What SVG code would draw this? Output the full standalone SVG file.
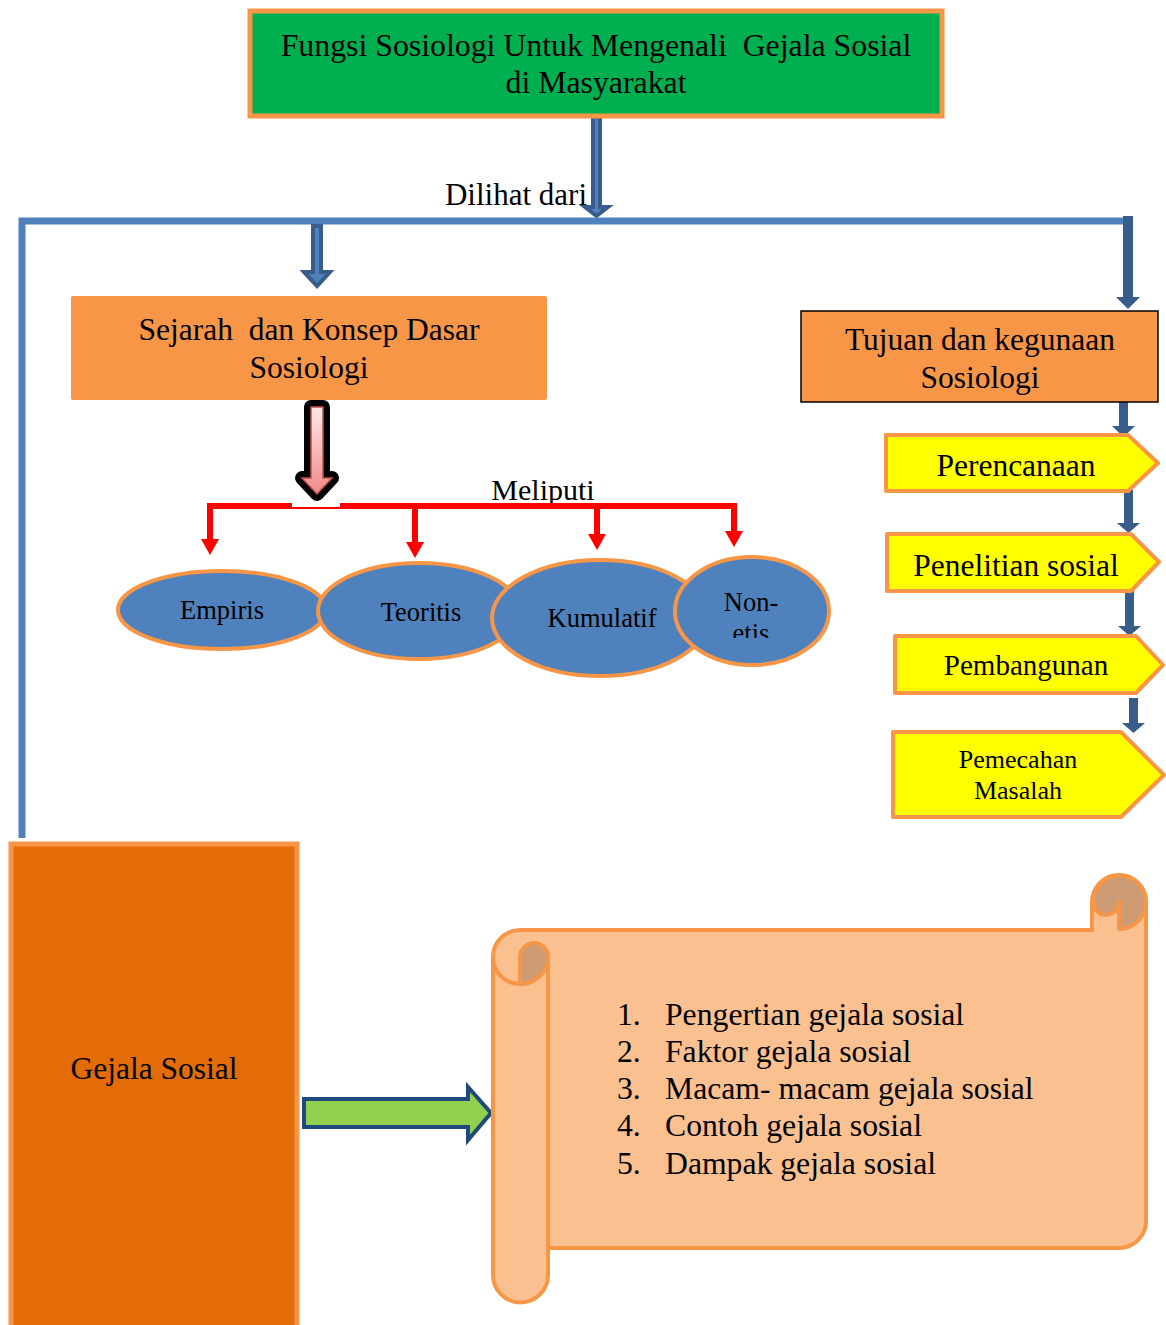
<svg xmlns="http://www.w3.org/2000/svg" width="1166" height="1325" viewBox="0 0 1166 1325">
<defs>
<style>
.t{font-family:"Liberation Serif","Times New Roman",serif;fill:#000}
.c{text-anchor:middle}
.pent{fill:#FFFF00;stroke:#F79646;stroke-width:4;stroke-linejoin:round}
.ell{fill:#4F81BD;stroke:#F79646;stroke-width:4}
.db{fill:#385D8A}
.red{stroke:#FF0000;stroke-width:6;fill:none}
.redh{fill:#FF0000}
.sc{fill:#FAC090;stroke:#F79646;stroke-width:4;stroke-linejoin:round}
.scl{fill:none;stroke:#F79646;stroke-width:4}
.dk{fill:#CD9B74;stroke:#F79646;stroke-width:4;stroke-linejoin:round}
</style>
<linearGradient id="pink" x1="0" y1="0" x2="0" y2="1">
<stop offset="0" stop-color="#FFE8E8"/>
<stop offset="1" stop-color="#F08A8A"/>
</linearGradient>
<clipPath id="nonclip"><rect x="680" y="560" width="150" height="78"/></clipPath>
</defs>
<rect width="1166" height="1325" fill="#FFFFFF"/>

<g id="connectors">
<path d="M593 117 L600 117 L600 207 L608 207 L596.5 216 L585 207 L593 207 Z" fill="#4F81BD" stroke="#385D8A" stroke-width="4"/>
<polyline points="22,838 22,221 1125,221" fill="none" stroke="#4F81BD" stroke-width="7"/>
<path d="M313 226 L321 226 L321 272 L330 272 L317 286 L304 272 L313 272 Z" fill="#4F81BD" stroke="#385D8A" stroke-width="4"/>
<rect class="db" x="1123" y="216" width="10" height="82"/>
<polygon class="db" points="1116,297 1140,297 1128,309"/>
<rect class="db" x="1119" y="402" width="9" height="25"/>
<polygon class="db" points="1112,426 1135,426 1123.5,437"/>
<rect class="db" x="1124" y="490" width="9" height="34"/>
<polygon class="db" points="1117,523 1140,523 1128.5,533"/>
<rect class="db" x="1125" y="590" width="9" height="37"/>
<polygon class="db" points="1118,626 1141,626 1129.5,636"/>
<rect class="db" x="1129" y="698" width="9" height="26"/>
<polygon class="db" points="1122,723 1145,723 1133.5,733"/>
<text class="t c" x="543" y="500" font-size="30">Meliputi</text>
<polyline class="red" points="210,540 210,506 734,506 734,532"/>
<line class="red" x1="415" y1="506" x2="415" y2="542" stroke-width="5"/>
<line class="red" x1="597" y1="506" x2="597" y2="534" stroke-width="5"/>
<polygon class="redh" points="201,539 219,539 210,555"/>
<polygon class="redh" points="406,542 424,542 415,558"/>
<polygon class="redh" points="588,534 606,534 597,550"/>
<polygon class="redh" points="725,531 743,531 734,547"/>
<rect x="292" y="400" width="48" height="107" fill="#FFFFFF"/>
<path d="M311 407 L323 407 L323 478 L332 478 L317 494 L302 478 L311 478 Z" fill="none" stroke="#000" stroke-width="14" stroke-linejoin="round"/>
<path d="M311 407 L323 407 L323 478 L332 478 L317 494 L302 478 L311 478 Z" fill="url(#pink)" stroke="#C0504D" stroke-width="1.5"/>
<path d="M304 1099 L468 1099 L468 1087 L491 1113 L468 1140 L468 1127 L304 1127 Z" fill="#92D050" stroke="#1F497D" stroke-width="4"/>
<text class="t" x="587" y="205" font-size="31" text-anchor="end">Dilihat dari</text>
</g>

<g id="title">
<rect x="250" y="11" width="692" height="105" fill="#00B050" stroke="#F79646" stroke-width="5"/>
<text class="t c" x="596" y="56" font-size="31.8" xml:space="preserve">Fungsi Sosiologi Untuk Mengenali  Gejala Sosial</text>
<text class="t c" x="596" y="93" font-size="31.8">di Masyarakat</text>
</g>

<g id="sejarah">
<rect x="71" y="296" width="476" height="104" fill="#F79646" rx="2"/>
<text class="t c" x="309" y="340" font-size="31.5" xml:space="preserve">Sejarah  dan Konsep Dasar</text>
<text class="t c" x="309" y="378" font-size="31.5">Sosiologi</text>
</g>

<g id="empiris">
<ellipse class="ell" cx="222" cy="610" rx="104" ry="39"/>
<text class="t c" x="222" y="619" font-size="26.5">Empiris</text>
</g>
<g id="teoritis">
<ellipse class="ell" cx="419" cy="611" rx="101" ry="48"/>
<text class="t c" x="421" y="621" font-size="26.5">Teoritis</text>
</g>
<g id="kumulatif">
<ellipse class="ell" cx="600" cy="618" rx="108" ry="58"/>
<text class="t c" x="602" y="627" font-size="26.5">Kumulatif</text>
</g>
<g id="nonetis">
<ellipse class="ell" cx="752" cy="611" rx="77" ry="54"/>
<g clip-path="url(#nonclip)">
<text class="t c" x="751" y="611" font-size="26.5">Non-</text>
<text class="t c" x="751" y="642" font-size="26.5">etis</text>
</g>
</g>

<g id="tujuan">
<rect x="801" y="311" width="357" height="91" fill="#F79646" stroke="#000" stroke-width="1.5"/>
<text class="t c" x="980" y="350" font-size="31.5">Tujuan dan kegunaan</text>
<text class="t c" x="980" y="388" font-size="31.5">Sosiologi</text>
</g>

<g id="perencanaan">
<polygon class="pent" points="886,435 1128,435 1158,463 1128,491 886,491"/>
<text class="t c" x="1016" y="476" font-size="31.5">Perencanaan</text>
</g>
<g id="penelitian">
<polygon class="pent" points="887,534 1131,534 1159,562 1131,591 887,591"/>
<text class="t c" x="1016" y="576" font-size="31.5">Penelitian sosial</text>
</g>
<g id="pembangunan">
<polygon class="pent" points="895,636 1136,636 1163,665 1136,693 895,693"/>
<text class="t c" x="1026" y="675" font-size="29">Pembangunan</text>
</g>
<g id="pemecahan">
<polygon class="pent" points="893,732 1121,732 1164,775 1121,817 893,817"/>
<text class="t c" x="1018" y="768" font-size="26">Pemecahan</text>
<text class="t c" x="1018" y="799" font-size="26">Masalah</text>
</g>

<g id="gejala">
<rect x="11" y="844" width="286" height="500" fill="#E36C09" stroke="#F79646" stroke-width="5"/>
<text class="t c" x="154" y="1079" font-size="31.5">Gejala Sosial</text>
</g>

<g id="scroll">
<path class="sc" d="M493 957 A27 27 0 0 1 520 930 L1092 930 L1092 902 A27 27 0 0 1 1146 902 L1146 1221 A27 27 0 0 1 1119 1248 L548 1248 L548 1275 A27.5 27.5 0 0 1 493 1275 Z"/>
<path class="scl" d="M493 957 A27 27 0 0 0 547 957"/>
<line class="scl" x1="548" y1="957" x2="548" y2="1250"/>
<path class="dk" d="M520 984 L520 957 A14 14 0 0 1 548 957 A27.5 27.5 0 0 1 520 984 Z"/>
<path class="dk" d="M1093 902 A26.5 26.5 0 0 1 1146 902 A27 27 0 0 1 1119 929 L1119 902 A13 13 0 0 1 1093 902 Z"/>
<g class="t" font-size="31.7">
<text x="617" y="1025">1.</text><text x="665" y="1025">Pengertian gejala sosial</text>
<text x="617" y="1062">2.</text><text x="665" y="1062">Faktor gejala sosial</text>
<text x="617" y="1099">3.</text><text x="665" y="1099">Macam- macam gejala sosial</text>
<text x="617" y="1136">4.</text><text x="665" y="1136">Contoh gejala sosial</text>
<text x="617" y="1174">5.</text><text x="665" y="1174">Dampak gejala sosial</text>
</g>
</g>
</svg>
